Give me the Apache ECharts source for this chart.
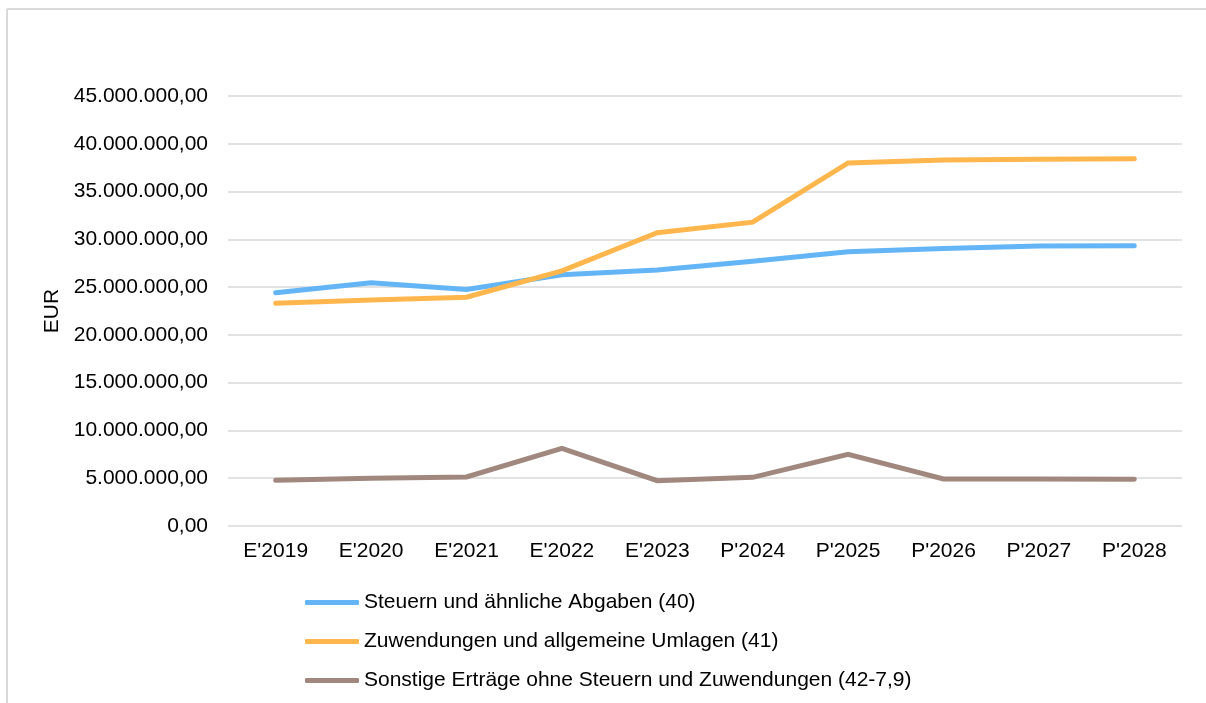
<!DOCTYPE html>
<html>
<head>
    <meta charset="utf-8">
    <title>Erträge</title>
    <script src="https://cdn.jsdelivr.net/npm/echarts@6/dist/echarts.min.js"></script>
    <style>
        html, body { margin: 0; padding: 0; background: #fff; }
        #chart { width: 1206px; height: 703px; }
    </style>
</head>
<body>
<div id="chart"></div>
<script type="text/javascript">
    // Jahre (E = Ergebnis, P = Plan)
    var years = ["E'2019", "E'2020", "E'2021", "E'2022", "E'2023", "P'2024", "P'2025", "P'2026", "P'2027", "P'2028"];

    var seriesNames = [
        'Steuern und ähnliche Abgaben (40)',
        'Zuwendungen und allgemeine Umlagen (41)',
        'Sonstige Erträge ohne Steuern und Zuwendungen (42-7,9)'
    ];

    var steuern = [24400000, 25450000, 24750000, 26300000, 26800000, 27700000, 28700000, 29050000, 29300000, 29330000];
    var zuwendungen = [23300000, 23650000, 23950000, 26700000, 30700000, 31800000, 38000000, 38300000, 38370000, 38440000];
    var sonstige = [4780000, 5000000, 5130000, 8130000, 4740000, 5090000, 7500000, 4920000, 4920000, 4900000];

    var colors = ['#64B5F6', '#FFB74D', '#A1887F'];

    var fmt = function (v) {
        var parts = v.toFixed(2).split('.');
        return parts[0].replace(/\B(?=(\d{3})+(?!\d))/g, '.') + ',' + parts[1];
    };

    var chart = echarts.init(document.getElementById('chart'));

    var mkLine = function (name, data, color) {
        return {
            name: name,
            type: 'line',
            data: data,
            symbol: 'none',
            smooth: false,
            lineStyle: { color: color, width: 5, cap: 'round', join: 'miter' },
            itemStyle: { color: color }
        };
    };

    var option = {
        animation: false,
        textStyle: { fontFamily: 'Liberation Sans, Arial, sans-serif' },
        graphic: [
            { type: 'line', shape: { x1: 7, y1: 9, x2: 1206, y2: 9 }, style: { stroke: '#d9d9d9', lineWidth: 2 } },
            { type: 'line', shape: { x1: 7, y1: 9, x2: 7, y2: 703 }, style: { stroke: '#d9d9d9', lineWidth: 2 } }
        ],
        grid: { left: 228, right: 24, top: 96, bottom: 177 },
        legend: {
            orient: 'vertical',
            left: 300,
            top: 587,
            itemGap: 18,
            itemWidth: 54,
            itemHeight: 5,
            icon: 'roundRect',
            textStyle: { fontSize: 21, color: '#000', fontFamily: 'Liberation Sans, Arial, sans-serif' },
            data: seriesNames
        },
        xAxis: {
            type: 'category',
            data: years,
            boundaryGap: true,
            axisLine: { show: false },
            axisTick: { show: false },
            axisLabel: { fontSize: 21, color: '#000', margin: 15 }
        },
        yAxis: {
            type: 'value',
            min: 0,
            max: 45000000,
            interval: 5000000,
            name: 'EUR',
            nameLocation: 'middle',
            nameGap: 165,
            nameRotate: 90,
            nameTextStyle: { fontSize: 21, color: '#000' },
            axisLine: { show: false },
            axisTick: { show: false },
            axisLabel: { fontSize: 21, color: '#000', margin: 20, formatter: fmt },
            splitLine: { lineStyle: { color: '#d9d9d9', width: 1.5 } }
        },
        series: [
            mkLine(seriesNames[0], steuern, colors[0]),
            mkLine(seriesNames[1], zuwendungen, colors[1]),
            mkLine(seriesNames[2], sonstige, colors[2])
        ]
    };

    chart.setOption(option);
</script>
</body>
</html>
